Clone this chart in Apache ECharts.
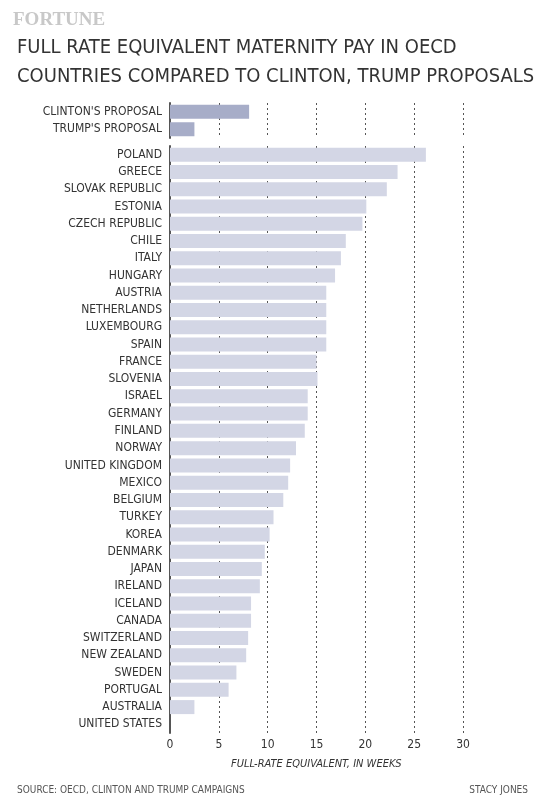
<!DOCTYPE html>
<html><head><meta charset="utf-8">
<script src="https://cdn.jsdelivr.net/npm/echarts@6/dist/echarts.min.js"></script>
<style>body{margin:0;background:#fff}#c{width:545px;height:800px}</style>
</head><body><div id="c"></div>
<script>
var proposals = ["CLINTON'S PROPOSAL", "TRUMP'S PROPOSAL"];
var proposalWeeks = [8.1, 2.5];
var countries = ["POLAND","GREECE","SLOVAK REPUBLIC","ESTONIA","CZECH REPUBLIC","CHILE","ITALY","HUNGARY","AUSTRIA","NETHERLANDS","LUXEMBOURG","SPAIN","FRANCE","SLOVENIA","ISRAEL","GERMANY","FINLAND","NORWAY","UNITED KINGDOM","MEXICO","BELGIUM","TURKEY","KOREA","DENMARK","JAPAN","IRELAND","ICELAND","CANADA","SWITZERLAND","NEW ZEALAND","SWEDEN","PORTUGAL","AUSTRALIA","UNITED STATES"];
var countryWeeks = [26.2,23.3,22.2,20.1,19.7,18.0,17.5,16.9,16.0,16.0,16.0,16.0,15.0,15.1,14.1,14.1,13.8,12.9,12.3,12.1,11.6,10.6,10.2,9.7,9.4,9.2,8.3,8.3,8.0,7.8,6.8,6.0,2.5,0];
var xTicks = [0, 5, 10, 15, 20, 25, 30];

var font = "'DejaVu Sans Condensed', 'Roboto Condensed', sans-serif";
var chart = echarts.init(document.getElementById("c"));
var xBase = {
    type: "value", min: xTicks[0], max: xTicks[xTicks.length - 1], interval: 5,
    axisLine: {show: false}, axisTick: {show: false},
    splitLine: {lineStyle: {type: [2, 3], color: "#555", width: 1}}
};
var yBase = {
    type: "category", inverse: true,
    axisLine: {lineStyle: {color: "#555", width: 2}}, axisTick: {show: false},
    axisLabel: {color: "#333", fontFamily: font, fontSize: 12, margin: 8}
};
chart.setOption({
    animation: false,
    title: [
        {text: "FORTUNE", left: 8, top: 6, textStyle: {fontFamily: "'Liberation Serif', serif", fontSize: 19, fontWeight: "bold", color: "#c8c8c8"}},
        {text: "FULL RATE EQUIVALENT MATERNITY PAY IN OECD\nCOUNTRIES COMPARED TO CLINTON, TRUMP PROPOSALS", left: 12, top: 28,
         textStyle: {fontFamily: font, fontSize: 20, fontWeight: "normal", color: "#333", lineHeight: 29}},
        {text: "SOURCE: OECD, CLINTON AND TRUMP CAMPAIGNS", left: 12, top: 780, textStyle: {fontFamily: font, fontSize: 10, fontWeight: "normal", color: "#555"}},
        {text: "STACY JONES", right: 12, top: 780, textStyle: {fontFamily: font, fontSize: 10, fontWeight: "normal", color: "#555"}},
        {text: "FULL-RATE EQUIVALENT, IN WEEKS", left: 226, top: 754, textStyle: {fontFamily: font, fontSize: 11, fontStyle: "italic", fontWeight: "normal", color: "#333"}}
    ],
    grid: [
        {left: 170, right: 82, top: 103, height: 35},
        {left: 170, right: 82, top: 146, bottom: 67}
    ],
    xAxis: [
        Object.assign({gridIndex: 0, axisLabel: {show: false}}, xBase),
        Object.assign({gridIndex: 1, axisLabel: {color: "#333", fontFamily: font, fontSize: 12, margin: 6}}, xBase)
    ],
    yAxis: [
        Object.assign({gridIndex: 0, data: proposals}, yBase),
        Object.assign({gridIndex: 1, data: countries}, yBase)
    ],
    series: [
        {type: "bar", xAxisIndex: 0, yAxisIndex: 0, data: proposalWeeks, barWidth: 14, itemStyle: {color: "#a7adc8"}},
        {type: "bar", xAxisIndex: 1, yAxisIndex: 1, data: countryWeeks, barWidth: 14, itemStyle: {color: "#d3d6e5"}}
    ]
});
</script></body></html>
